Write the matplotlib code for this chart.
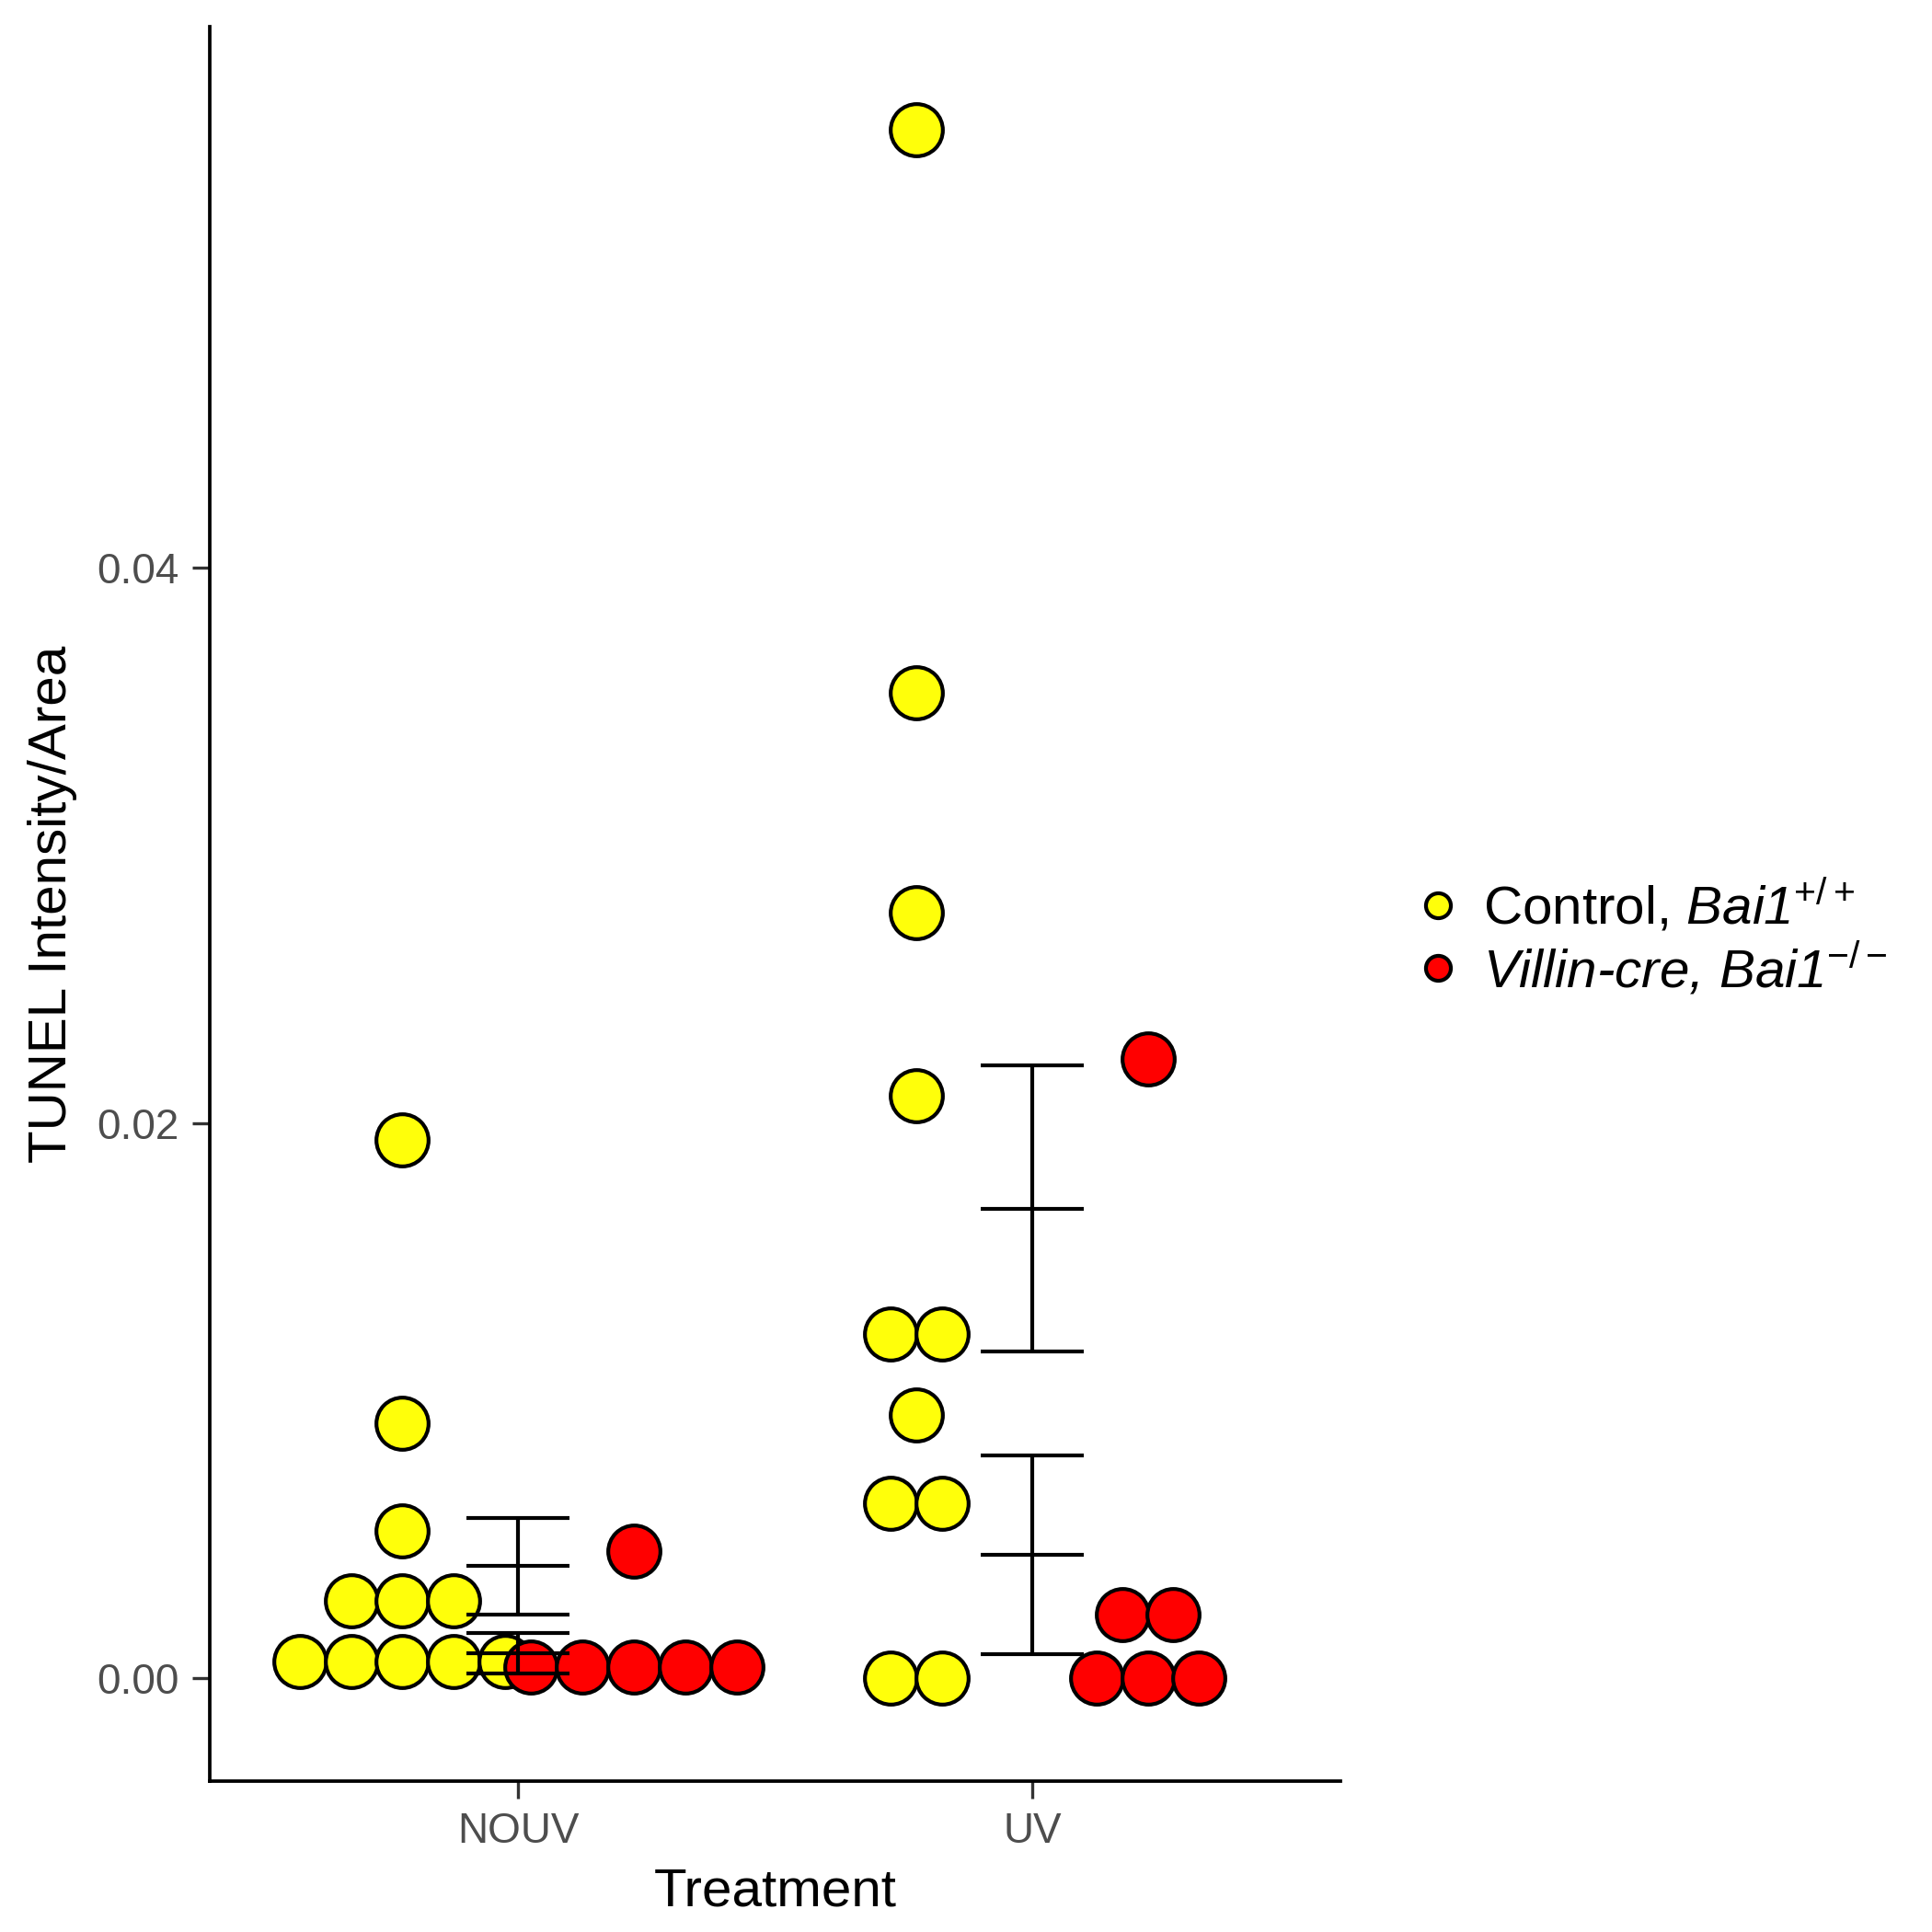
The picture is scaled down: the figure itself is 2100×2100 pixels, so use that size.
import matplotlib
matplotlib.use("Agg")
import matplotlib.pyplot as plt
from matplotlib.lines import Line2D
import numpy as np

plt.rcParams['font.family'] = ['Liberation Sans', 'DejaVu Sans']
plt.rcParams['mathtext.fontset'] = 'custom'
plt.rcParams['mathtext.rm'] = 'Liberation Sans'
plt.rcParams['mathtext.it'] = 'Liberation Sans:italic'
# bf slot used for italic text that holds digits (it slot puts digits upright)
plt.rcParams['mathtext.bf'] = 'Liberation Sans:italic'

# data (dotplot, values binned)
treatments = ['NOUV', 'UV']
groups = ['Control', 'Villin']
vals = {
    ('NOUV', 'Control'): [0.0194, 0.0092, 0.0053, 0.0028, 0.0028, 0.0028,
                          0.0006, 0.0006, 0.0006, 0.0006, 0.0006],
    ('NOUV', 'Villin'): [0.0046, 0.0004, 0.0004, 0.0004, 0.0004, 0.0004],
    ('UV', 'Control'): [0.0558, 0.0355, 0.0276, 0.0210, 0.0124, 0.0124,
                        0.0095, 0.0063, 0.0063, 0.0, 0.0],
    ('UV', 'Villin'): [0.0223, 0.0023, 0.0023, 0.0, 0.0, 0.0],
}
# mean and SE as drawn
means = {('NOUV', 'Control'): 0.00404, ('NOUV', 'Villin'): 0.00091,
         ('UV', 'Control'): 0.01693, ('UV', 'Villin'): 0.00444}
ses = {('NOUV', 'Control'): 0.00174, ('NOUV', 'Villin'): 0.00073,
       ('UV', 'Control'): 0.00514, ('UV', 'Villin'): 0.00358}

colors = {'Control': '#FFFF0A', 'Villin': '#FF0000'}
dodge = {'Control': -0.225, 'Villin': 0.225}
binw = 0.1

fig = plt.figure(figsize=(7, 7), dpi=300)
ax = fig.add_axes([228/2100, 1-1936/2100, (1457-228)/2100, (1936-29)/2100])

for g in groups:
    for i, t in enumerate(treatments):
        y = np.array(vals[(t, g)])
        xs = np.zeros(len(y))
        for v in np.unique(y):
            idx = np.where(y == v)[0]
            n = len(idx)
            xs[idx] = (np.arange(n) - (n - 1) / 2) * binw
        ax.scatter(i + 1 + dodge[g] + xs, y, s=185, c=colors[g],
                   edgecolors='black', linewidths=1.0, zorder=2 if g == 'Control' else 3)

for i, t in enumerate(treatments):
    for g in groups:
        m = means[(t, g)]
        s = ses[(t, g)]
        ax.errorbar(i + 1, m, yerr=s, fmt='none', ecolor='black', elinewidth=1.0,
                    capsize=0, zorder=4)
        ax.hlines([m - s, m, m + s], i + 1 - 0.1, i + 1 + 0.1, colors='black',
                  linewidth=1.0, zorder=4)

ax.set_xlim(0.4, 2.6)
ax.set_ylim(-0.0037, 0.0595)
ax.set_xticks([1, 2])
ax.set_xticklabels(treatments)
ax.set_yticks([0.0, 0.02, 0.04])
ax.set_yticklabels(['0.00', '0.02', '0.04'])
ax.tick_params(labelsize=11, labelcolor='#4D4D4D', length=4.5, width=0.8, color='#333333')
for side in ['top', 'right']:
    ax.spines[side].set_visible(False)
for side in ['left', 'bottom']:
    ax.spines[side].set_linewidth(0.9)
ax.set_xlabel('Treatment', fontsize=14, labelpad=4)
ax.set_ylabel('TUNEL Intensity/Area', fontsize=14, labelpad=5)

handles = [Line2D([], [], marker='o', ls='none', markersize=6.5, markerfacecolor=colors[g],
                  markeredgecolor='black', markeredgewidth=1.0) for g in groups]
labels = ['Control, $\\mathbf{Bai1}^{+/+}$', 'Villin-cre, Bai1$^{-/-}$']
leg = fig.legend(handles, labels, loc='center left', bbox_to_anchor=(1510/2100, 1-1019/2100),
                 frameon=False, fontsize=14, handlelength=0.8, handletextpad=0.45,
                 labelspacing=0.1, borderpad=0)
leg.get_texts()[1].set_fontstyle('italic')

fig.savefig('out.png', dpi=300)
